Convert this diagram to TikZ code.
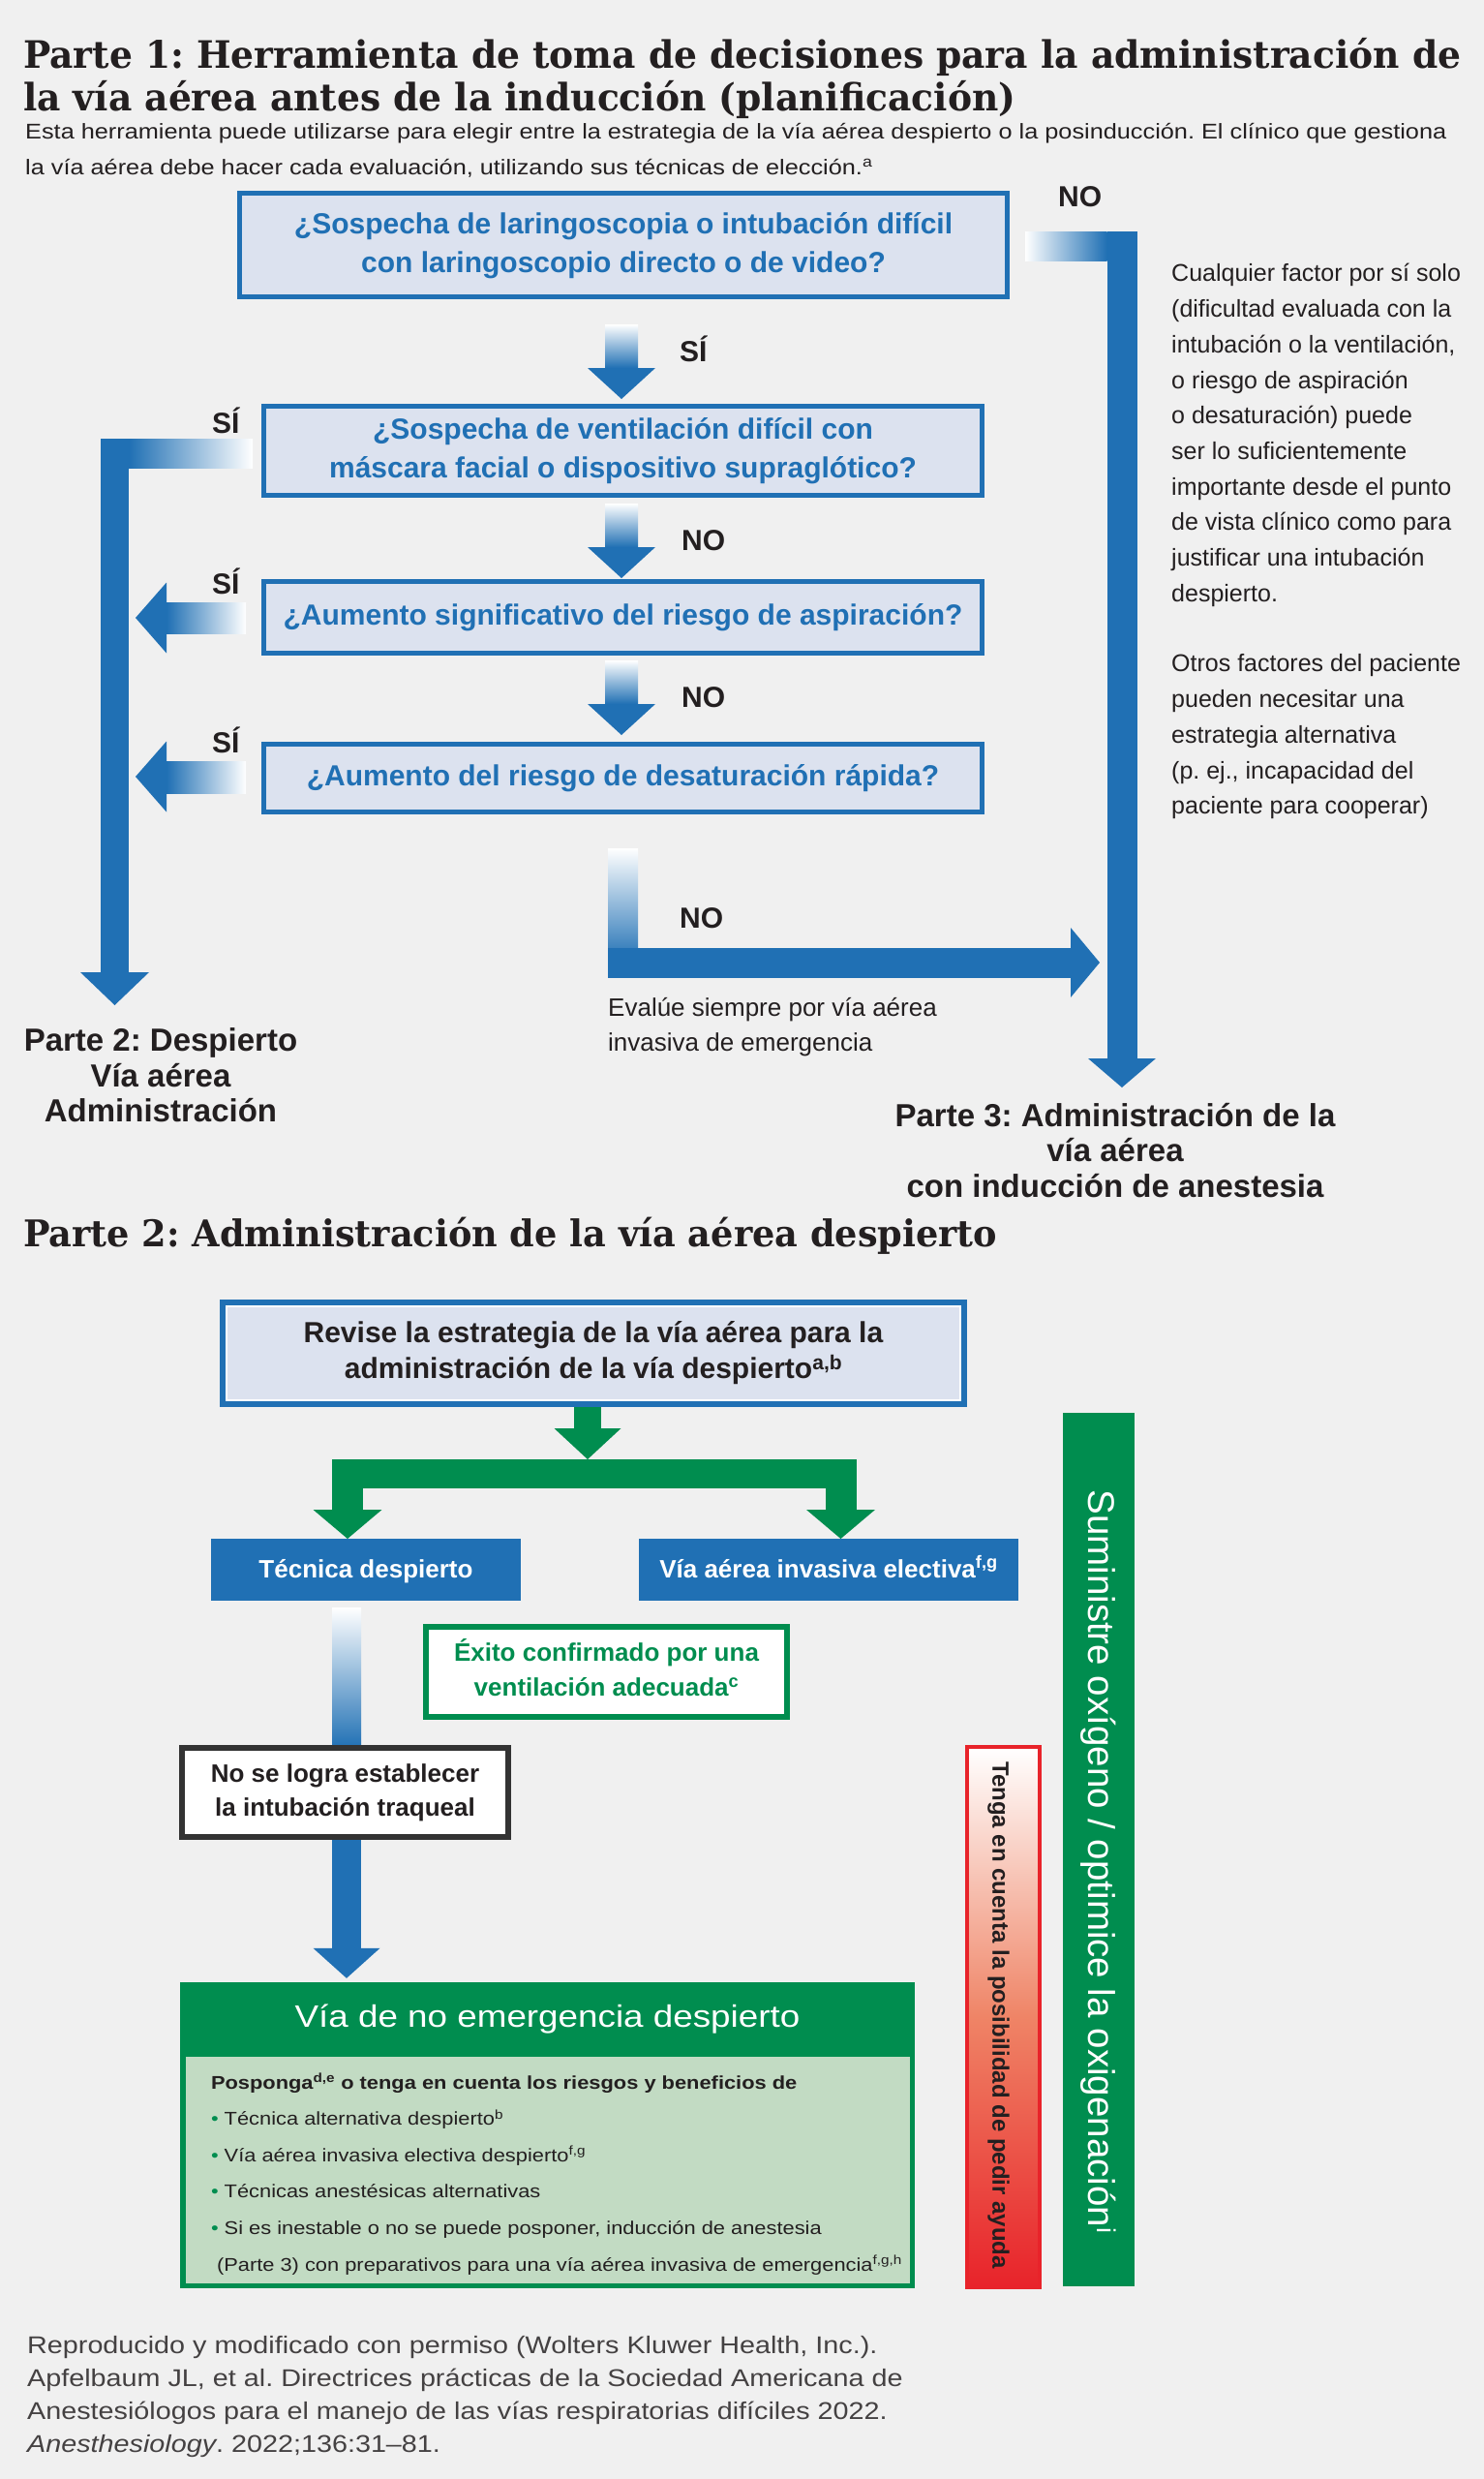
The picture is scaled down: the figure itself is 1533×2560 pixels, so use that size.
\documentclass[tikz,border=0pt]{standalone}
\usepackage{fontspec}
\setmainfont{Liberation Sans}
\newfontfamily\titlefont{DejaVu Serif}[FakeStretch=0.965]
\newfontfamily\widesans{Liberation Sans}[FakeStretch=1.15]
\usetikzlibrary{calc, positioning, backgrounds}
\frenchspacing
\definecolor{bg}{HTML}{F0F0F0}
\definecolor{ablue}{HTML}{2070B4}
\definecolor{qfill}{HTML}{DCE2EF}
\definecolor{agreen}{HTML}{008D4F}
\definecolor{lgreen}{HTML}{C2DBC3}
\definecolor{ared}{HTML}{E8232A}
\definecolor{salmon}{HTML}{EF8466}
\definecolor{ink}{HTML}{231F20}
\definecolor{darkline}{HTML}{333333}
\tikzstyle{titletext} = [font=\titlefont\bfseries\fontsize{39}{40}\selectfont, text=ink, align=left, inner sep=0pt]
\tikzstyle{introtext} = [font=\widesans\fontsize{22}{37}\selectfont, text=ink, align=left, inner sep=0pt]
\tikzstyle{qbox} = [draw=ablue, line width=5pt, fill=qfill, text=ablue, font=\bfseries\fontsize{30}{40}\selectfont, align=center, inner sep=0pt, outer sep=0pt]
\tikzstyle{answer} = [font=\bfseries\fontsize{30}{36}\selectfont, text=ink, inner sep=0pt, anchor=base west]
\tikzstyle{sidetext} = [font=\fontsize{25}{36.7}\selectfont, text=ink, align=left, inner sep=0pt]
\tikzstyle{parttext} = [font=\bfseries\fontsize{33}{36.5}\selectfont, text=ink, align=center, inner sep=0pt]
\tikzstyle{revbox} = [draw=ablue, line width=6pt, fill=qfill, text=ink, font=\bfseries\fontsize{30}{37}\selectfont, align=center, inner sep=0pt, outer sep=0pt]
\tikzstyle{bluebox} = [fill=ablue, text=white, font=\bfseries\fontsize{26}{40}\selectfont, inner sep=0pt, outer sep=0pt]
\tikzstyle{okbox} = [draw=agreen, line width=6pt, fill=white, text=agreen, font=\bfseries\fontsize{26}{36}\selectfont, align=center, inner sep=0pt, outer sep=0pt]
\tikzstyle{failbox} = [draw=darkline, line width=6pt, fill=white, text=ink, font=\bfseries\fontsize{26}{35}\selectfont, align=center, inner sep=0pt, outer sep=0pt]
\tikzstyle{headtext} = [font=\widesans\fontsize{32}{40}\selectfont, text=white, inner sep=0pt]
\tikzstyle{listtext} = [font=\widesans\fontsize{19}{37.6}\selectfont, text=ink, align=left, inner sep=0pt]
\tikzstyle{oxytext} = [font=\fontsize{38.5}{44}\selectfont, text=white, inner sep=0pt]
\tikzstyle{helptext} = [font=\bfseries\fontsize{24}{28}\selectfont, text=ink, inner sep=0pt]
\tikzstyle{foottext} = [font=\widesans\fontsize{25}{34}\selectfont, text=ink!85, align=left, inner sep=0pt]
\newcommand{\fadedown}[2]{%
  \shade[top color=white, bottom color=ablue] ($(#1)+(-17,0)$) rectangle ($(#2)+(17,-32)$);
  \fill[ablue] ($(#2)+(-35,-32)$) -- ($(#2)+(35,-32)$) -- (#2) -- cycle;}
\newcommand{\fadeleft}[2]{%
  \shade[left color=ablue, right color=white] ($(#2)+(32,-16)$) rectangle ($(#1)+(0,16)$);
  \fill[ablue] ($(#2)+(32,-36.5)$) -- ($(#2)+(32,36.5)$) -- (#2) -- cycle;}
\begin{document}
\begin{tikzpicture}[x=1pt, y=-1pt]
\begin{scope}[on background layer]
  \fill[bg] (0,0) rectangle (1533,2560);
\end{scope}
\useasboundingbox (0,0) rectangle (1533,2560);

% Parte 1
\node[titletext, anchor=north west] (title1) at (24,39) {\strut Parte 1: Herramienta de toma de decisiones para la administración de\\la vía aérea antes de la inducción (planificación)};
\node[introtext, anchor=north west] (intro) at (26,117) {\strut Esta herramienta puede utilizarse para elegir entre la estrategia de la vía aérea despierto o la posinducción. El clínico que gestiona\\la vía aérea debe hacer cada evaluación, utilizando sus técnicas de elección.\textsuperscript{a}};

\node[qbox, minimum width=793pt, minimum height=107pt] (q1) at (644,253) {\strut ¿Sospecha de laringoscopia o intubación difícil\\\strut con laringoscopio directo o de video?};
\node[qbox, minimum width=742pt, minimum height=92pt] (q2) at (643.5,465.5) {\strut ¿Sospecha de ventilación difícil con\\\strut máscara facial o dispositivo supraglótico?};
\node[qbox, minimum width=742pt, minimum height=74pt] (q3) at (643.5,637.5) {\strut ¿Aumento significativo del riesgo de aspiración?};
\node[qbox, minimum width=742pt, minimum height=70pt] (q4) at (643.5,803.5) {\strut ¿Aumento del riesgo de desaturación rápida?};

\node[answer] (yes1) at (702,373) {SÍ};
\node[answer] (no1) at (704,568) {NO};
\node[answer] (no2) at (704,730) {NO};
\node[answer] (no3) at (702,958) {NO};
\node[answer] (noright) at (1093,213) {NO};
\node[answer] (yesleft) at (219,447) {SÍ};
\node[answer] (yes3) at (219,613) {SÍ};
\node[answer] (yes4) at (219,777) {SÍ};

\node[sidetext, anchor=north west] (factors) at (1210,265) {\strut Cualquier factor por sí solo\\(dificultad evaluada con la\\intubación o la ventilación,\\o riesgo de aspiración\\o desaturación) puede\\ser lo suficientemente\\importante desde el punto\\de vista clínico como para\\justificar una intubación\\despierto.\\[36pt]Otros factores del paciente\\pueden necesitar una\\estrategia alternativa\\(p. ej., incapacidad del\\paciente para cooperar)};
\node[sidetext, font=\fontsize{26}{36}\selectfont, anchor=north west] (evalue) at (628,1024) {\strut Evalúe siempre por vía aérea\\invasiva de emergencia};
\node[parttext, anchor=north] (awake) at (166,1060) {\strut Parte 2: Despierto\\Vía aérea\\Administración};
\node[parttext, anchor=north] (induct) at (1152,1137.5) {\strut Parte 3: Administración de la\\vía aérea\\con inducción de anestesia};

\coordinate (a1top) at ($(q1.south)+(-2,28.5)$);
\coordinate (a1tip) at ($(q2.north)+(-1.5,-7.5)$);
\coordinate (a2top) at ($(q2.south)+(-1.5,8.5)$);
\coordinate (a2tip) at ($(q3.north)+(-1.5,-3.5)$);
\coordinate (a3top) at ($(q3.south)+(-1.5,7.5)$);
\coordinate (a3tip) at ($(q4.north)+(-1.5,-9.5)$);
\fadedown{a1top}{a1tip}
\fadedown{a2top}{a2tip}
\fadedown{a3top}{a3tip}

\coordinate (y3end) at ($(q3.west)+(-18.5,1)$);
\coordinate (y3tip) at ($(q3.west)+(-132.5,0.5)$);
\coordinate (y4end) at ($(q4.west)+(-18.5,0)$);
\coordinate (y4tip) at ($(q4.west)+(-132.5,-1.5)$);
\fadeleft{y3end}{y3tip}
\fadeleft{y4end}{y4tip}

\coordinate (awakeout) at ($(q2.west)+(-11.5,2.5)$);
\coordinate (awaketip) at ($(awake.north)+(-47.5,-22)$);
\shade[left color=ablue, right color=white] ($(awaketip |- awakeout)+(14.5,-15)$) rectangle ($(awakeout)+(0,15)$);
\fill[ablue] ($(awaketip |- awakeout)+(-14.5,-15)$) rectangle ($(awaketip)+(14.5,-34)$);
\fill[ablue] ($(awaketip)+(-35.5,-34)$) -- ($(awaketip)+(35.5,-34)$) -- (awaketip) -- cycle;

\coordinate (noout) at ($(q1.east)+(18.5,1)$);
\coordinate (notip) at ($(induct.north)+(7,-14.5)$);
\shade[left color=white, right color=ablue] ($(noout)+(0,-15)$) rectangle ($(notip |- noout)+(-15.5,15)$);
\fill[ablue] ($(notip |- noout)+(-15.5,-15)$) rectangle ($(notip)+(15.5,-30)$);
\fill[ablue] ($(notip)+(-35,-30)$) -- ($(notip)+(35,-30)$) -- (notip) -- cycle;

\coordinate (lowtop) at ($(q4.south)+(0,37.5)$);
\coordinate (lowtip) at ($(notip |- q4.south)+(-23,155.5)$);
\shade[top color=white, bottom color=ablue] ($(lowtop)+(-15.5,0)$) rectangle ($(lowtop |- lowtip)+(15.5,0)$);
\fill[ablue] ($(lowtop |- lowtip)+(-15.5,-15.5)$) rectangle ($(lowtip)+(-30,15.5)$);
\fill[ablue] ($(lowtip)+(-30,-36)$) -- ($(lowtip)+(-30,36)$) -- (lowtip) -- cycle;

% Parte 2
\node[titletext, font=\titlefont\bfseries\fontsize{38}{40}\selectfont, anchor=base west] (title2) at (24,1287) {Parte 2: Administración de la vía aérea despierto};

\node[revbox, minimum width=766pt, minimum height=105pt] (rev) at (613,1397.5) {\strut Revise la estrategia de la vía aérea para la\\\strut administración de la vía despierto\textsuperscript{a,b}};
\draw[white, line width=2pt] ($(rev.north west)+(4,4)$) rectangle ($(rev.south east)+(-4,-4)$);
\node[bluebox, minimum width=320pt, minimum height=64pt] (tech) at (378,1621) {\strut Técnica despierto};
\node[bluebox, minimum width=392pt, minimum height=64pt] (elec) at (856,1621) {\strut Vía aérea invasiva electiva\textsuperscript{f,g}};
\node[okbox, minimum width=373pt, minimum height=93pt] (success) at (626.5,1726.5) {\strut Éxito confirmado por una\\\strut ventilación adecuada\textsuperscript{c}};
\node[failbox, minimum width=337pt, minimum height=92pt] (nolog) at (356.5,1851) {\strut No se logra establecer\\\strut la intubación traqueal};

\node[fill=agreen, minimum width=759pt, minimum height=316pt, inner sep=0pt] (nonem) at (565.5,2205) {};
\node[headtext, anchor=base] (nonemtitle) at ($(nonem.north)+(0,47)$) {Vía de no emergencia despierto};
\node[fill=lgreen, minimum width=748pt, minimum height=234pt, inner sep=0pt, anchor=north] (nonembody) at ($(nonem.north)+(0.5,77)$) {};
\node[listtext, anchor=north west] (options) at ($(nonembody.north west)+(26,6.7)$) {\strut\textbf{Posponga\textsuperscript{d,e} o tenga en cuenta los riesgos y beneficios de}\\
  \textcolor{agreen}{•} Técnica alternativa despierto\textsuperscript{b}\\
  \textcolor{agreen}{•} Vía aérea invasiva electiva despierto\textsuperscript{f,g}\\
  \textcolor{agreen}{•} Técnicas anestésicas alternativas\\
  \textcolor{agreen}{•} Si es inestable o no se puede posponer, inducción de anestesia\\
  \hspace*{6pt}(Parte 3) con preparativos para una vía aérea invasiva de emergencia\textsuperscript{f,g,h}};

\node[fill=agreen, minimum width=74pt, minimum height=902pt, inner sep=0pt] (oxy) at (1135,1910) {};
\node[oxytext, rotate=-90] (oxynote) at ($(oxy.center)+(0,12.5)$) {Suministre oxígeno / optimice la oxigenación\textsuperscript{i}};
\node[draw=ared, line width=4pt, top color=white, bottom color=ared, middle color=salmon, minimum width=75pt, minimum height=558pt, inner sep=0pt] (help) at (1036.5,2083) {};
\node[helptext, rotate=-90] (helpnote) at ($(help.center)+(-5,-2)$) {Tenga en cuenta la posibilidad de pedir ayuda};

\coordinate (forktop) at ($(rev.south)+(-6,57)$);
\coordinate (techtip) at ($(tech.north)+(-19,0)$);
\coordinate (electip) at ($(elec.north)+(12.5,0)$);
\fill[agreen] ($(rev.south)+(-20,3)$) rectangle ($(forktop)+(14,-32)$);
\fill[agreen] ($(forktop)+(-34.5,-32)$) -- ($(forktop)+(34.5,-32)$) -- (forktop) -- cycle;
\fill[agreen] ($(techtip |- forktop)+(-16,0)$) rectangle ($(electip |- forktop)+(16,30)$);
\fill[agreen] ($(techtip |- forktop)+(-16,30)$) rectangle ($(techtip)+(16,-30)$);
\fill[agreen] ($(techtip)+(-35.5,-30)$) -- ($(techtip)+(35.5,-30)$) -- (techtip) -- cycle;
\fill[agreen] ($(electip |- forktop)+(-16,30)$) rectangle ($(electip)+(16,-30)$);
\fill[agreen] ($(electip)+(-35.5,-30)$) -- ($(electip)+(35.5,-30)$) -- (electip) -- cycle;

\coordinate (failtip) at ($(nolog.south |- nonem.north)+(1.5,-4)$);
\coordinate (failtop) at ($(failtip |- tech.south)+(0,7)$);
\begin{scope}[on background layer]
  \shade[top color=white, bottom color=ablue] ($(failtop)+(-15,0)$) rectangle ($(failtop |- nolog.north)+(15,0)$);
  \fill[ablue] ($(failtop |- nolog.north)+(-15,0)$) rectangle ($(failtip)+(15,-31)$);
  \fill[ablue] ($(failtip)+(-34.5,-31)$) -- ($(failtip)+(34.5,-31)$) -- (failtip) -- cycle;
\end{scope}

\node[foottext, anchor=north west] (source) at (28,2406) {\strut Reproducido y modificado con permiso (Wolters Kluwer Health, Inc.).\\Apfelbaum JL, et al. Directrices prácticas de la Sociedad Americana de\\Anestesiólogos para el manejo de las vías respiratorias difíciles 2022.\\\textit{Anesthesiology}. 2022;136:31–81.};
\end{tikzpicture}
\end{document}
